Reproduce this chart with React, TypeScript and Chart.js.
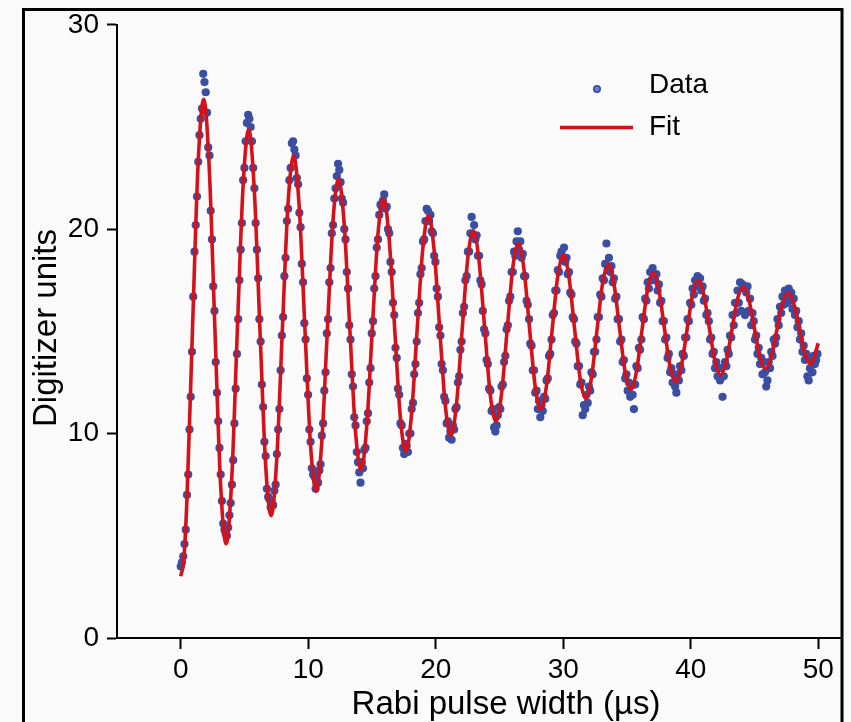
import React, { useEffect, useRef } from "react";
import { Chart, registerables } from "chart.js";

Chart.register(...registerables);

// ---- Data ----
// Measured points are taken at a fixed pulse-width step.
const DATA_START_US = 0;
const DATA_STEP_US = 0.0979;
const dataValues: number[] = [
  3.5, 3.7, 4.0, 4.6, 5.3, 7.0, 8.0, 10.2, 11.8,
  14.0, 16.7, 18.9, 20.2, 21.6, 23.3, 24.6, 25.4, 25.9, 27.6, 27.2, 26.7, 25.7, 24.0, 23.6, 20.9, 19.5, 17.2,
  16.0, 13.5, 12.0, 10.6, 9.3, 8.0, 6.7, 5.6, 5.3, 5.1, 5.0, 5.4, 6.0, 6.6, 7.5, 8.7, 10.5, 12.2,
  13.9, 15.6, 17.5, 19.0, 20.3, 22.4, 23.0, 24.3, 25.2, 25.6, 25.4, 25.0, 24.3, 23.0, 22.0, 20.3, 19.0, 17.6,
  15.6, 14.5, 12.4, 11.3, 9.6, 8.9, 7.3, 6.9, 6.8, 6.4, 6.6, 6.5, 7.2, 7.5, 9.0, 10.2, 11.2, 13.1,
  14.8, 15.7, 17.7, 18.6, 20.4, 21.0, 22.4, 23.0, 24.2, 24.3, 23.9, 23.6, 22.5, 22.2, 20.8, 20.1, 18.3, 17.4,
  15.4, 14.6, 12.7, 11.9, 10.2, 9.6, 8.3, 8.0, 7.9, 7.3, 8.1, 7.6, 8.2, 8.5, 9.9, 10.5, 12.1, 13.0,
  14.9, 15.6, 17.4, 18.1, 19.8, 20.2, 21.5, 22.0, 22.6, 23.2, 22.9, 22.3, 21.5, 21.3, 20.0, 19.5, 17.9, 17.1,
  15.3, 14.6, 12.9, 12.3, 10.8, 10.4, 9.1, 8.6, 8.1, 7.6, 8.6, 8.3, 9.2, 9.3, 10.6, 11.0, 12.5, 13.2,
  14.9, 15.5, 17.1, 17.7, 19.1, 19.5, 20.7, 21.2, 21.1, 21.4, 21.7, 21.0, 21.1, 20.0, 19.8, 18.4, 17.9, 16.4,
  15.8, 14.2, 13.7, 12.2, 11.9, 10.5, 10.4, 9.3, 9.0, 9.5, 9.4, 9.1, 10.0, 10.0, 11.2, 11.5, 12.9, 13.4,
  14.5, 15.9, 16.4, 17.8, 18.1, 19.4, 19.5, 20.4, 21.0, 20.9, 20.4, 20.7, 19.9, 19.8, 18.7, 18.4, 17.1, 16.7,
  15.2, 14.8, 13.4, 13.1, 11.8, 11.6, 10.5, 10.6, 9.8, 10.1, 9.7, 10.4, 10.2, 11.2, 11.3, 12.5, 12.8, 14.1,
  14.5, 15.9, 16.2, 17.5, 17.7, 18.9, 18.9, 19.8, 20.6, 19.7, 20.2, 19.5, 19.7, 18.7, 18.7, 17.5, 17.3, 16.0,
  15.1, 14.9, 13.6, 13.4, 12.2, 12.1, 11.1, 11.2, 10.3, 10.1, 10.4, 10.9, 11.3, 11.2, 12.3, 12.4, 13.5, 13.8,
  15.1, 15.3, 16.5, 16.7, 17.9, 17.9, 18.9, 18.7, 19.4, 19.9, 19.0, 19.4, 18.6, 18.8, 17.7, 17.7, 16.5, 16.3,
  15.6, 14.4, 14.3, 13.1, 13.1, 12.0, 12.1, 11.2, 11.6, 10.8, 11.4, 11.1, 11.8, 11.7, 12.6, 12.7, 13.8, 13.9,
  14.6, 15.8, 15.9, 17.0, 17.0, 18.0, 17.9, 18.7, 18.9, 18.5, 19.1, 18.4, 18.6, 17.8, 17.9, 16.9, 16.8, 15.7,
  15.6, 14.5, 14.4, 13.3, 13.3, 12.4, 12.5, 10.9, 11.4, 11.2, 11.9, 11.5, 12.3, 12.1, 13.0, 12.9, 14.0, 14.0,
  14.6, 15.7, 15.7, 16.8, 16.7, 17.6, 17.5, 18.3, 19.3, 18.0, 18.6, 17.9, 18.2, 17.4, 17.6, 16.6, 16.7, 15.6,
  15.6, 14.5, 14.6, 13.5, 13.6, 12.7, 12.9, 12.1, 12.5, 11.8, 12.4, 11.9, 11.2, 12.4, 13.3, 13.2, 14.2, 14.1,
  14.6, 15.7, 15.6, 16.6, 16.5, 17.4, 17.1, 17.9, 17.5, 18.1, 17.6, 17.5, 17.8, 17.0, 17.3, 16.4, 16.5, 15.5,
  15.5, 14.6, 14.7, 13.7, 13.9, 13.0, 13.2, 12.5, 12.9, 12.3, 12.0, 12.9, 12.6, 13.3, 13.1, 13.9, 13.8, 14.7,
  14.7, 15.6, 15.5, 16.4, 16.3, 17.1, 16.8, 17.5, 17.2, 17.7, 17.3, 17.6, 17.0, 17.2, 16.5, 16.6, 15.8, 15.9,
  15.5, 14.6, 14.7, 13.9, 14.0, 13.2, 13.5, 12.8, 13.2, 12.6, 13.2, 11.8, 12.8, 13.5, 13.3, 14.1, 13.9, 14.8,
  14.7, 15.8, 15.3, 16.4, 15.9, 17.0, 16.4, 17.4, 16.0, 17.3, 17.1, 15.8, 16.9, 17.2, 16.0, 16.6, 15.3, 15.9,
  15.5, 14.6, 14.8, 13.9, 14.2, 13.4, 13.7, 12.9, 13.5, 13.0, 12.3, 12.6, 13.5, 13.2, 14.0, 13.8, 14.6, 14.4,
  14.7, 15.6, 15.3, 16.2, 15.9, 16.7, 16.3, 17.0, 16.6, 16.4, 17.1, 16.5, 16.9, 16.1, 16.6, 15.8, 16.0, 15.2,
  15.5, 14.6, 14.9, 14.0, 14.3, 13.6, 13.9, 12.8, 12.6, 13.2, 13.6, 13.0, 13.8, 13.4, 13.6, 13.9,
];

// Fit curve: extrema, crossings and in-between points.
const fitTimes: number[] = [
  0, 0.24, 0.48, 0.92, 1.36,
  1.80, 2.24, 2.68, 3.12,
  3.56, 4.00, 4.44, 4.89,
  5.33, 5.77, 6.21, 6.65,
  7.09, 7.53, 7.97, 8.41,
  8.85, 9.30, 9.74, 10.18,
  10.62, 11.06, 11.50, 11.94,
  12.37, 12.82, 13.26, 13.70,
  14.14, 14.58, 15.02, 15.46,
  15.90, 16.34, 16.78, 17.22,
  17.66, 18.10, 18.54, 18.99,
  19.43, 19.87, 20.31, 20.75,
  21.19, 21.63, 22.07, 22.51,
  22.95, 23.39, 23.84, 24.28,
  24.72, 25.16, 25.60, 26.04,
  26.48, 26.92, 27.36, 27.80,
  28.24, 28.69, 29.13, 29.57,
  30.01, 30.45, 30.89, 31.33,
  31.77, 32.21, 32.65, 33.09,
  33.54, 33.98, 34.42, 34.86,
  35.30, 35.74, 36.18, 36.62,
  37.06, 37.50, 37.94, 38.38,
  38.82, 39.26, 39.71, 40.15,
  40.59, 41.03, 41.47, 41.91,
  42.35, 42.79, 43.23, 43.67,
  44.11, 44.56, 45.00, 45.44,
  45.88, 46.32, 46.76, 47.20,
  47.64, 48.08, 48.52, 48.96,
  49.40, 50.00,
];
const fitValues: number[] = [
  3.02, 3.87, 6.71, 15.1, 23.20,
  26.36, 22.92, 15.1, 7.55,
  4.61, 7.81, 15.1, 22.13,
  24.88, 21.89, 15.1, 8.54,
  5.99, 8.77, 15.1, 21.21,
  23.59, 21.00, 15.1, 9.41,
  7.18, 9.60, 15.1, 20.41,
  22.48, 20.23, 15.1, 10.15,
  8.22, 10.32, 15.1, 19.71,
  21.51, 19.55, 15.1, 10.80,
  9.13, 10.95, 15.1, 19.10,
  20.67, 18.97, 15.1, 11.36,
  9.91, 11.49, 15.1, 18.58,
  19.93, 18.45, 15.1, 11.86,
  10.60, 11.97, 15.1, 18.12,
  19.30, 18.02, 15.1, 12.28,
  11.19, 12.38, 15.1, 17.72,
  18.75, 17.64, 15.1, 12.65,
  11.70, 12.74, 15.1, 17.38,
  18.27, 17.30, 15.1, 12.97,
  12.15, 13.05, 15.1, 17.08,
  17.85, 17.01, 15.1, 13.26,
  12.54, 13.32, 15.1, 16.82,
  17.49, 16.76, 15.1, 13.50,
  12.87, 13.55, 15.1, 16.60,
  17.17, 16.54, 15.1, 13.71,
  13.17, 13.76, 15.1, 16.39,
  16.90, 16.35, 15.1, 13.89,
  13.42, 14.42,
];

const xTickValues = [0, 10, 20, 30, 40, 50];
const yTickValues = [0, 10, 20, 30];
const X_MIN = -5;
const X_MAX = 51.7;
const Y_MIN = 0;
const Y_MAX = 30;

const xTitle = "Rabi pulse width (\u00b5s)";
const yTitle = "Digitizer units";
const legendLabels = ["Data", "Fit"];

const FONT = "'Liberation Sans', Arial, Helvetica, sans-serif";
const BLUE = "#34499b";
const RED = "#d3121b";

const decorPlugin = {
  id: "decor",
  beforeDraw(chart: any) {
    const { ctx, width, height } = chart;
    ctx.save();
    ctx.fillStyle = "#fafafa";
    ctx.fillRect(0, 0, width, height);
    ctx.restore();
  },
  afterDraw(chart: any) {
    const ctx = chart.ctx as CanvasRenderingContext2D;
    ctx.save();
    // outer frame
    ctx.strokeStyle = "#000";
    ctx.lineWidth = 3;
    ctx.beginPath();
    ctx.moveTo(23.5, 740);
    ctx.lineTo(23.5, 9.5);
    ctx.lineTo(842, 9.5);
    ctx.lineTo(842, 740);
    ctx.stroke();

    // legend
    ctx.fillStyle = "#6d80c4";
    ctx.strokeStyle = BLUE;
    ctx.lineWidth = 1.6;
    ctx.beginPath();
    ctx.arc(597, 89, 3.2, 0, Math.PI * 2);
    ctx.fill();
    ctx.stroke();
    ctx.strokeStyle = RED;
    ctx.lineWidth = 3.5;
    ctx.beginPath();
    ctx.moveTo(560, 127.5);
    ctx.lineTo(633, 127.5);
    ctx.stroke();
    ctx.fillStyle = "#000";
    ctx.font = `28px ${FONT}`;
    ctx.textAlign = "left";
    ctx.textBaseline = "middle";
    ctx.fillText(legendLabels[0], 649, 85);
    ctx.fillText(legendLabels[1], 649, 127);

    // axis titles
    ctx.font = `33px ${FONT}`;
    ctx.textAlign = "center";
    ctx.textBaseline = "middle";
    ctx.fillText(xTitle, 506, 705);
    ctx.translate(47, 328);
    ctx.rotate(-Math.PI / 2);
    ctx.fillText(yTitle, 0, 0);
    ctx.restore();
  },
};

export default function App() {
  const ref = useRef<HTMLCanvasElement | null>(null);

  useEffect(() => {
    if (!ref.current) return;
    const scatterPoints = dataValues.map((v, i) => ({ x: DATA_START_US + i * DATA_STEP_US, y: v }));
    const fitPoints = fitTimes.map((t, i) => ({ x: t, y: fitValues[i] }));

    const tickFont = { family: FONT, size: 28 };
    const chart = new Chart(ref.current, {
      type: "scatter",
      data: {
        datasets: [
          {
            type: "line",
            label: legendLabels[1],
            data: fitPoints,
            borderColor: RED,
            borderWidth: 3.6,
            pointRadius: 0,
            fill: false,
            cubicInterpolationMode: "monotone",
            order: 0,
          } as any,
          {
            type: "scatter",
            label: legendLabels[0],
            data: scatterPoints,
            pointRadius: 4.1,
            pointBorderWidth: 0,
            backgroundColor: "#3a4fa2",
            borderColor: "#3a4fa2",
            order: 1,
          } as any,
        ],
      },
      options: {
        responsive: false,
        animation: false,
        events: [],
        layout: { padding: { left: 0, right: 11, top: 20, bottom: 0 } },
        plugins: { legend: { display: false }, tooltip: { enabled: false } },
        scales: {
          x: {
            type: "linear",
            min: X_MIN,
            max: X_MAX,
            afterBuildTicks: (s: any) => {
              s.ticks = xTickValues.map((v) => ({ value: v }));
            },
            afterFit: (s: any) => {
              s.height = 84;
            },
            grid: {
              display: true,
              drawOnChartArea: false,
              drawTicks: true,
              tickLength: 11,
              tickWidth: 2,
              tickColor: "#000",
            },
            border: { display: true, color: "#000", width: 2 },
            ticks: {
              font: tickFont,
              color: "#000",
              padding: 4,
              maxRotation: 0,
              autoSkip: false,
              callback: (v: any) => String(v),
            },
          },
          y: {
            type: "linear",
            min: Y_MIN,
            max: Y_MAX,
            afterBuildTicks: (s: any) => {
              s.ticks = yTickValues.map((v) => ({ value: v }));
            },
            afterFit: (s: any) => {
              s.width = 117;
            },
            grid: {
              display: true,
              drawOnChartArea: false,
              drawTicks: true,
              tickLength: 10,
              tickWidth: 2,
              tickColor: "#000",
            },
            border: { display: true, color: "#000", width: 2 },
            ticks: {
              font: tickFont,
              color: "#000",
              padding: 8,
              autoSkip: false,
              callback: (v: any) => String(v),
            },
          },
        },
      },
      plugins: [decorPlugin],
    });
    return () => chart.destroy();
  }, []);

  return (
    <div style={{ position: "fixed", left: 0, top: 0, width: 851, height: 722, background: "#fafafa" }}>
      <canvas ref={ref} width={851} height={722} style={{ display: "block", width: 851, height: 722 }} />
    </div>
  );
}
